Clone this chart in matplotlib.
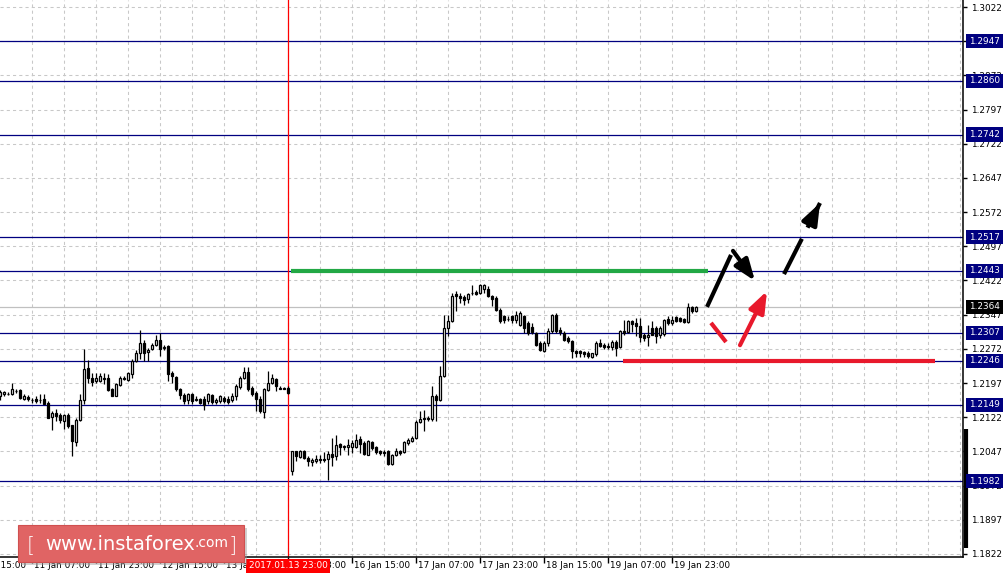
import matplotlib.pyplot as plt
import matplotlib.transforms as mtransforms
from matplotlib.patches import FancyBboxPatch
import numpy as np

# hourly candles, index 0 = 10 Jan 23:00 (weekend gap after index 72 = 13 Jan 23:00)
opens = [1.2168, 1.2172, 1.2174, 1.2173, 1.2180, 1.2181, 1.2163, 1.2167, 1.2160, 1.2161,
         1.2160, 1.2161, 1.2154, 1.2122, 1.2131, 1.2127, 1.2114, 1.2127, 1.2104, 1.2067,
         1.2115, 1.2159, 1.2230, 1.2208, 1.2201, 1.2201, 1.2209, 1.2209, 1.2183, 1.2168,
         1.2192, 1.2207, 1.2204, 1.2217, 1.2245, 1.2262, 1.2285, 1.2264, 1.2272, 1.2280,
         1.2292, 1.2274, 1.2279, 1.2219, 1.2210, 1.2185, 1.2171, 1.2160, 1.2173, 1.2160,
         1.2163, 1.2163, 1.2157, 1.2170, 1.2155, 1.2157, 1.2164, 1.2162, 1.2159, 1.2168,
         1.2189, 1.2207, 1.2221, 1.2186, 1.2175, 1.2162, 1.2133, 1.2182, 1.2197, 1.2206,
         1.2187, 1.2187, 1.2186, 1.2003, 1.2047, 1.2035, 1.2048, 1.2033, 1.2024, 1.2026,
         1.2031, 1.2031, 1.2031, 1.2042, 1.2037, 1.2063, 1.2058, 1.2057, 1.2057, 1.2057,
         1.2075, 1.2066, 1.2040, 1.2068, 1.2057, 1.2047, 1.2046, 1.2047, 1.2020, 1.2040,
         1.2047, 1.2046, 1.2066, 1.2070, 1.2077, 1.2111, 1.2120, 1.2121, 1.2117, 1.2168,
         1.2159, 1.2212, 1.2318, 1.2333, 1.2393, 1.2389, 1.2386, 1.2381, 1.2394, 1.2396,
         1.2395, 1.2403, 1.2403, 1.2388, 1.2384, 1.2358, 1.2344, 1.2338, 1.2344, 1.2335,
         1.2325, 1.2344, 1.2329, 1.2320, 1.2307, 1.2285, 1.2267, 1.2284, 1.2311, 1.2347,
         1.2314, 1.2307, 1.2296, 1.2289, 1.2267, 1.2267, 1.2265, 1.2263, 1.2255, 1.2260,
         1.2284, 1.2281, 1.2279, 1.2276, 1.2287, 1.2276, 1.2311, 1.2309, 1.2333, 1.2329,
         1.2323, 1.2303, 1.2298, 1.2318, 1.2318, 1.2303, 1.2304, 1.2338, 1.2329, 1.2341,
         1.2340, 1.2338, 1.2330, 1.2364, 1.2355]
highs = [1.2181, 1.2180, 1.2177, 1.2197, 1.2184, 1.2183, 1.2173, 1.2171, 1.2164, 1.2168,
         1.2172, 1.2172, 1.2157, 1.2135, 1.2139, 1.2132, 1.2128, 1.2132, 1.2106, 1.2121,
         1.2172, 1.2272, 1.2248, 1.2219, 1.2219, 1.2219, 1.2220, 1.2216, 1.2186, 1.2197,
         1.2212, 1.2212, 1.2221, 1.2249, 1.2270, 1.2314, 1.2292, 1.2274, 1.2285, 1.2303,
         1.2307, 1.2280, 1.2281, 1.2223, 1.2212, 1.2186, 1.2175, 1.2175, 1.2175, 1.2168,
         1.2164, 1.2168, 1.2175, 1.2172, 1.2164, 1.2170, 1.2168, 1.2168, 1.2175, 1.2194,
         1.2212, 1.2232, 1.2232, 1.2190, 1.2179, 1.2168, 1.2186, 1.2223, 1.2216, 1.2208,
         1.2190, 1.2189, 1.2190, 1.2047, 1.2048, 1.2051, 1.2051, 1.2037, 1.2033, 1.2040,
         1.2040, 1.2045, 1.2047, 1.2077, 1.2084, 1.2066, 1.2062, 1.2075, 1.2073, 1.2086,
         1.2080, 1.2069, 1.2071, 1.2069, 1.2058, 1.2049, 1.2051, 1.2051, 1.2042, 1.2055,
         1.2051, 1.2069, 1.2077, 1.2080, 1.2115, 1.2135, 1.2137, 1.2124, 1.2190, 1.2172,
         1.2234, 1.2347, 1.2347, 1.2395, 1.2398, 1.2395, 1.2391, 1.2395, 1.2413, 1.2402,
         1.2415, 1.2415, 1.2409, 1.2391, 1.2387, 1.2362, 1.2347, 1.2344, 1.2347, 1.2355,
         1.2355, 1.2347, 1.2333, 1.2329, 1.2309, 1.2289, 1.2289, 1.2318, 1.2349, 1.2351,
         1.2320, 1.2311, 1.2300, 1.2292, 1.2270, 1.2270, 1.2267, 1.2267, 1.2263, 1.2289,
         1.2294, 1.2284, 1.2284, 1.2291, 1.2291, 1.2314, 1.2336, 1.2336, 1.2336, 1.2340,
         1.2340, 1.2307, 1.2325, 1.2333, 1.2322, 1.2322, 1.2338, 1.2344, 1.2344, 1.2344,
         1.2342, 1.2340, 1.2373, 1.2367, 1.2367]
lows = [1.2160, 1.2168, 1.2171, 1.2171, 1.2175, 1.2163, 1.2160, 1.2158, 1.2154, 1.2154,
        1.2154, 1.2150, 1.2121, 1.2094, 1.2113, 1.2110, 1.2096, 1.2099, 1.2037, 1.2058,
        1.2113, 1.2150, 1.2197, 1.2190, 1.2197, 1.2199, 1.2194, 1.2179, 1.2168, 1.2168,
        1.2190, 1.2203, 1.2201, 1.2208, 1.2243, 1.2249, 1.2245, 1.2245, 1.2269, 1.2278,
        1.2256, 1.2270, 1.2201, 1.2197, 1.2179, 1.2161, 1.2150, 1.2152, 1.2150, 1.2157,
        1.2152, 1.2137, 1.2152, 1.2152, 1.2152, 1.2154, 1.2154, 1.2152, 1.2155, 1.2159,
        1.2183, 1.2205, 1.2179, 1.2168, 1.2135, 1.2132, 1.2121, 1.2179, 1.2194, 1.2179,
        1.2183, 1.2183, 1.2172, 1.1996, 1.2026, 1.2033, 1.2031, 1.2015, 1.2015, 1.2022,
        1.2022, 1.2024, 1.1985, 1.2016, 1.2029, 1.2038, 1.2051, 1.2038, 1.2044, 1.2055,
        1.2044, 1.2040, 1.2038, 1.2051, 1.2042, 1.2040, 1.2037, 1.2018, 1.2018, 1.2037,
        1.2040, 1.2044, 1.2062, 1.2068, 1.2075, 1.2110, 1.2091, 1.2113, 1.2113, 1.2113,
        1.2157, 1.2210, 1.2300, 1.2331, 1.2355, 1.2373, 1.2369, 1.2373, 1.2391, 1.2391,
        1.2393, 1.2395, 1.2386, 1.2367, 1.2355, 1.2329, 1.2329, 1.2333, 1.2329, 1.2329,
        1.2323, 1.2307, 1.2303, 1.2305, 1.2279, 1.2268, 1.2265, 1.2279, 1.2307, 1.2307,
        1.2303, 1.2289, 1.2285, 1.2252, 1.2254, 1.2254, 1.2254, 1.2252, 1.2252, 1.2257,
        1.2276, 1.2272, 1.2272, 1.2270, 1.2257, 1.2274, 1.2303, 1.2307, 1.2309, 1.2300,
        1.2286, 1.2289, 1.2278, 1.2303, 1.2284, 1.2296, 1.2301, 1.2325, 1.2325, 1.2331,
        1.2332, 1.2329, 1.2329, 1.2351, 1.2353]
closes = [1.2177, 1.2177, 1.2173, 1.2183, 1.2179, 1.2164, 1.2169, 1.2161, 1.2159, 1.2157,
          1.2160, 1.2152, 1.2121, 1.2131, 1.2124, 1.2115, 1.2126, 1.2102, 1.2069, 1.2115,
          1.2159, 1.2228, 1.2208, 1.2199, 1.2208, 1.2212, 1.2205, 1.2181, 1.2168, 1.2194,
          1.2208, 1.2205, 1.2218, 1.2245, 1.2262, 1.2285, 1.2263, 1.2270, 1.2280, 1.2292,
          1.2272, 1.2277, 1.2216, 1.2212, 1.2184, 1.2170, 1.2157, 1.2173, 1.2157, 1.2161,
          1.2153, 1.2149, 1.2172, 1.2155, 1.2159, 1.2168, 1.2157, 1.2155, 1.2168, 1.2190,
          1.2207, 1.2221, 1.2183, 1.2172, 1.2161, 1.2135, 1.2184, 1.2198, 1.2207, 1.2190,
          1.2185, 1.2184, 1.2176, 1.2047, 1.2037, 1.2048, 1.2033, 1.2026, 1.2029, 1.2031,
          1.2028, 1.2028, 1.2042, 1.2035, 1.2062, 1.2057, 1.2057, 1.2062, 1.2066, 1.2073,
          1.2064, 1.2042, 1.2069, 1.2055, 1.2045, 1.2044, 1.2044, 1.2020, 1.2040, 1.2047,
          1.2044, 1.2068, 1.2071, 1.2077, 1.2111, 1.2117, 1.2117, 1.2118, 1.2168, 1.2159,
          1.2212, 1.2318, 1.2333, 1.2387, 1.2387, 1.2384, 1.2380, 1.2393, 1.2395, 1.2393,
          1.2413, 1.2411, 1.2387, 1.2381, 1.2358, 1.2333, 1.2335, 1.2338, 1.2335, 1.2347,
          1.2351, 1.2318, 1.2307, 1.2308, 1.2281, 1.2270, 1.2284, 1.2311, 1.2347, 1.2311,
          1.2308, 1.2291, 1.2289, 1.2267, 1.2263, 1.2262, 1.2260, 1.2257, 1.2262, 1.2284,
          1.2279, 1.2276, 1.2276, 1.2287, 1.2274, 1.2311, 1.2306, 1.2333, 1.2327, 1.2322,
          1.2298, 1.2296, 1.2303, 1.2303, 1.2301, 1.2318, 1.2336, 1.2329, 1.2336, 1.2333,
          1.2334, 1.2331, 1.2364, 1.2355, 1.2364]

levels = [1.2947, 1.2860, 1.2742, 1.2517, 1.2443, 1.2307, 1.2246, 1.2149, 1.1982]
last_price = 1.2364
price_ticks = [1.3022, 1.2947, 1.2872, 1.2797, 1.2722, 1.2647, 1.2572, 1.2497, 1.2422,
               1.2347, 1.2272, 1.2197, 1.2122, 1.2047, 1.1972, 1.1897, 1.1822]
time_pos = [-8, 8, 24, 40, 56, 72, 88, 104, 120, 136, 152, 168]
time_labels = ['10 Jan 15:00', '11 Jan 07:00', '11 Jan 23:00', '12 Jan 15:00', '13 Jan 07:00',
               '13 Jan 23:00', '16 Jan 15:00', '17 Jan 07:00', '17 Jan 23:00', '18 Jan 15:00',
               '19 Jan 07:00', '19 Jan 23:00']
red_bar = 72
red_label = '2017.01.13 23:00'

# forecast drawing (bar index, price)
green_level = (1.2443, 72.75, 177)
red_level = (1.2246, 155.75, 233.75)
black_line = ([176.75, 182.75], [1.2364, 1.2478])
black_arrow = ([183.25, 188.75], [1.2487, 1.2421])
black_dash_arrow = ([196, 205], [1.2436, 1.2592])
red_line = ([177.75, 181.5], [1.2329, 1.2287])
red_arrow = ([185, 191.75], [1.2280, 1.2399])

W, H = 1004, 576
fig = plt.figure(figsize=(W / 100, H / 100), dpi=100)
ax = fig.add_axes([0, 19 / H, 963 / W, 557 / H])
ax.set_xlim(0, 240.75)
ax.set_ylim(1.18153, 1.30374)

lab_font = dict(family='DejaVu Sans', size=6.4)

# grid
for g in range(8, 241, 8):
    ax.axvline(g, color='#c8c8c8', lw=0.75, ls=(0, (3, 3)), zorder=0)
for p in price_ticks:
    ax.axhline(p, color='#c8c8c8', lw=0.75, ls=(0, (3, 3)), zorder=0)

# levels
for lv in levels:
    ax.axhline(lv, color='#000080', lw=0.9, zorder=1)
ax.axhline(last_price, color='#c0c0c0', lw=0.9, zorder=1)
ax.axvline(red_bar, color='red', lw=0.9, zorder=1)

# candles
idx = np.arange(len(opens))
o = np.array(opens); c = np.array(closes)
ax.vlines(idx, lows, highs, color='black', lw=0.9, zorder=2)
bottoms = np.minimum(o, c)
heights = np.maximum(np.abs(c - o), 0.00002)
fills = np.where(c >= o, 'white', 'black')
ax.bar(idx, heights, bottom=bottoms, width=0.7, color=fills, edgecolor='black',
       linewidth=0.9, zorder=3)

# forecast levels and arrows
ax.hlines(green_level[0], green_level[1], green_level[2], color='#22a845', lw=3, zorder=4)
ax.hlines(red_level[0], red_level[1], red_level[2], color='#e8192c', lw=3, zorder=4)
ax.plot(*black_line, color='black', lw=3, solid_capstyle='butt', zorder=5)
ax.plot(*red_line, color='#e8192c', lw=3, solid_capstyle='butt', zorder=5)
astyle = '-|>,head_length=0.8,head_width=0.3'
for xs, ys, col in [(black_arrow[0], black_arrow[1], 'black'),
                    (red_arrow[0], red_arrow[1], '#e8192c')]:
    ax.annotate('', xy=(xs[1], ys[1]), xytext=(xs[0], ys[0]),
                arrowprops=dict(arrowstyle=astyle, color=col, lw=3, mutation_scale=16,
                                shrinkA=0, shrinkB=0), zorder=5)
dx, dy = black_dash_arrow
ax.plot(dx, dy, color='black', lw=3, ls=(0, (9.5, 3)), zorder=5)
ax.annotate('', xy=(dx[1], dy[1]), xytext=(dx[0] + (dx[1] - dx[0]) * 0.7, dy[0] + (dy[1] - dy[0]) * 0.7),
            arrowprops=dict(arrowstyle=astyle, color='black', lw=3, mutation_scale=16,
                            shrinkA=0, shrinkB=0), zorder=5)

# axes look
for s in ['top', 'left']:
    ax.spines[s].set_visible(False)
ax.spines['right'].set_linewidth(1.1)
ax.spines['bottom'].set_linewidth(1.1)
ax.yaxis.tick_right()
ax.set_yticks(price_ticks)
ax.set_yticklabels(['%.4f' % p for p in price_ticks], **lab_font)
ax.tick_params(axis='y', direction='out', length=3, width=1, pad=3)
ax.set_xticks(time_pos[1:])
ax.set_xticklabels([])
ax.tick_params(axis='x', direction='out', length=4, width=1)
ax.plot([1.0035, 1.0035], [1.1835, 1.2096], transform=mtransforms.blended_transform_factory(ax.transAxes, ax.transData),
        color='black', lw=3, clip_on=False, zorder=6, solid_capstyle='butt')

xtr = ax.get_xaxis_transform()
for pos, lab in zip(time_pos, time_labels):
    ax.text(pos + 0.5, -9 / 557, lab, transform=xtr, ha='left', va='center', clip_on=False, **lab_font)
ax.text(red_bar, -9 / 557, red_label, transform=xtr, ha='center', va='center', color='white',
        bbox=dict(boxstyle='square,pad=0.25', fc='red', ec='none'), zorder=7, **lab_font)

ytr = mtransforms.blended_transform_factory(ax.transAxes, ax.transData)
for lv in levels:
    ax.text(1.0062, lv, '%.4f' % lv, transform=ytr, ha='left', va='center', color='white',
            bbox=dict(boxstyle='square,pad=0.3', fc='#000080', ec='none'), zorder=7, **lab_font)
ax.text(1.0062, last_price, '%.4f' % last_price, transform=ytr, ha='left', va='center', color='white',
        bbox=dict(boxstyle='square,pad=0.3', fc='black', ec='none'), zorder=7, **lab_font)

# watermark
shadow = FancyBboxPatch((21 / W, 1 - 565 / H), 226 / W, 37 / H, boxstyle='square,pad=0',
                        transform=fig.transFigure, fc='#999999', ec='none', alpha=0.45, zorder=8)
badge = FancyBboxPatch((18 / W, 1 - 562 / H), 226 / W, 37 / H, boxstyle='square,pad=0',
                       transform=fig.transFigure, fc='#e06464', ec='#d05050', lw=0.8, zorder=9)
fig.patches.extend([shadow, badge])
fig.text(27 / W, 1 - 545 / H, '[', color='white', fontsize=15, fontweight='light', ha='left', va='center', zorder=10)
fig.text(45 / W, 1 - 544 / H, 'www.instaforex', color='white', fontsize=14, ha='left', va='center', zorder=10)
fig.text(195 / W, 1 - 543 / H, '.com', color='white', fontsize=10, ha='left', va='center', zorder=10)
fig.text(229 / W, 1 - 545 / H, ']', color='white', fontsize=15, fontweight='light', ha='left', va='center', zorder=10)

fig.savefig('out.png', dpi=100)
